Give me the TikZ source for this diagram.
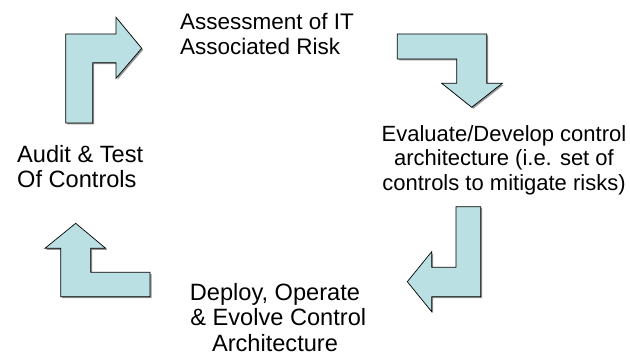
\documentclass[tikz,border=0pt]{standalone}
\usepackage{fontspec}
\setmainfont{Liberation Sans}
\definecolor{arrowfill}{RGB}{187,224,227}
\definecolor{shadowgray}{RGB}{150,150,150}
\begin{document}
\begin{tikzpicture}[x=1pt,y=-1pt,
  bentarrow/.style={fill=arrowfill,draw=black,line width=0.7pt,line join=miter},
  arrowshadow/.style={fill=shadowgray,draw=none},
  label/.style={inner sep=0pt,font=\fontsize{22.5}{25.5}\selectfont},
  biglabel/.style={inner sep=0pt,font=\fontsize{23.6}{25.5}\selectfont},
  smalllabel/.style={inner sep=0pt,font=\fontsize{22}{24.5}\selectfont}]
\useasboundingbox (0,0) rectangle (630,358);
% arrow 1: up then right
\foreach \s/\st in {1.5/arrowshadow,0/bentarrow}{
  \path[\st,shift={(\s,\s)}] (65.7,123) -- (65.7,34) -- (116,34) -- (116,17.3) -- (141.7,48.3) -- (116,78.3) -- (116,62.7) -- (92.7,62.7) -- (92.7,123) -- cycle;
  % arrow 2: right then down
  \path[\st,shift={(\s,\s)}] (397.3,34) -- (486.7,34) -- (486.7,83.3) -- (502.3,83.3) -- (471.7,107.3) -- (441.7,83.3) -- (456.7,83.3) -- (456.7,59) -- (397.3,59) -- cycle;
  % arrow 3: down then left
  \path[\st,shift={(\s,\s)}] (456,206.7) -- (480.7,206.7) -- (480.7,296.7) -- (431.7,296.7) -- (431.7,311.7) -- (407.3,281.7) -- (431.7,251.7) -- (431.7,267.3) -- (456,267.3) -- cycle;
  % arrow 4: left then up
  \path[\st,shift={(\s,\s)}] (150,272.3) -- (150,296.7) -- (60.7,296.7) -- (60.7,248.3) -- (45,248.3) -- (75.7,223.3) -- (105.7,248.3) -- (90.7,248.3) -- (90.7,272.3) -- cycle;
}
\node[label,anchor=north west,align=left] (assess) at (180,13) {Assessment of IT\\Associated Risk};
\node[smalllabel,anchor=north,align=center] (eval) at (504,125) {Evaluate/Develop control\\architecture (i.e. set of\\controls to mitigate risks)};
\node[biglabel,anchor=north,align=center] (deploy) at (275,283) {Deploy, Operate\\\ \& Evolve Control\\Architecture};
\node[biglabel,anchor=north west,align=left] (audit) at (17,145) {Audit \& Test\\Of Controls};
\end{tikzpicture}
\end{document}
